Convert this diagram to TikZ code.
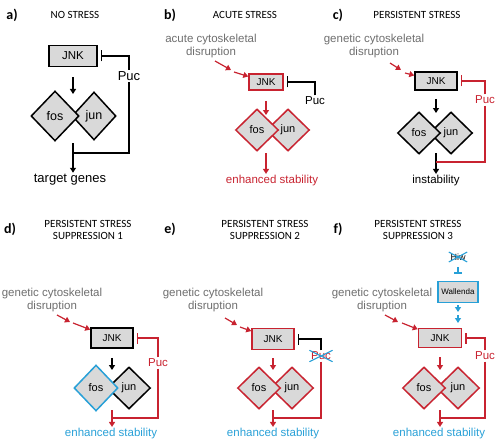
\documentclass[tikz,border=0pt]{standalone}
\usepackage{fontspec}
\setmainfont{Liberation Sans}
\newfontfamily\headfont{Carlito}
\usetikzlibrary{arrows.meta,shapes.geometric}
\definecolor{stressred}{RGB}{200,35,48}
\definecolor{supcyan}{RGB}{40,160,215}
\definecolor{boxfill}{RGB}{217,217,217}
\definecolor{notegray}{RGB}{110,110,110}

\begin{document}
\begin{tikzpicture}[
  x=1pt, y=-1pt,
  tag/.style={font=\headfont\bfseries\fontsize{14}{14}\selectfont},
  title/.style={font=\headfont\fontsize{11}{12}\selectfont, align=center},
  lbl/.style={inner sep=1.5pt, font=\fontsize{11.5}{13}\selectfont},
  note/.style={lbl, text=notegray, align=center},
  kin/.style={draw, fill=boxfill, line width=1.5pt, minimum width=42pt, minimum height=18pt, inner sep=0pt, font=\fontsize{10}{10}\selectfont},
  gene/.style={draw, fill=boxfill, diamond, line width=1.5pt, minimum width=43pt, minimum height=42pt, inner sep=0pt, font=\fontsize{11}{11}\selectfont},
  act/.style={line width=1.4pt, -{Triangle[length=5pt,width=6pt]}},
  push/.style={act, stressred, line width=1.2pt},
  inh/.style={line width=1.4pt, -{Bar[width=11pt]}, shorten >=3pt},
  link/.style={line width=1.4pt},
  veto/.style={supcyan, line width=1.1pt}
]
\useasboundingbox (0,0) rectangle (502,441);

\node[tag] at (12,15) {a)};
\node[title] at (75,15) {NO STRESS};
\node[kin, minimum width=48pt, minimum height=21pt, line width=1.8pt, font=\fontsize{11.5}{12}\selectfont] (a-jnk) at (73,56) {JNK};
\node[gene, minimum width=44pt, minimum height=48pt, font=\fontsize{12.5}{13}\selectfont] (a-jun) at (94,116) {jun};
\node[gene, minimum width=48pt, minimum height=50pt, font=\fontsize{12.5}{13}\selectfont] (a-fos) at (55,116) {fos};
\node[lbl, font=\fontsize{13}{14}\selectfont] (a-puc) at (129,76) {Puc};
\node[lbl, font=\fontsize{13}{14}\selectfont] (a-out) at (70,180) {target genes};
\coordinate (a-in) at (73,94);
\coordinate (a-from) at (73,143);
\coordinate (a-join) at (73,153);
\draw[act, shorten <=10pt] (a-jnk) -- (a-in);
\draw[act] (a-from) -- (a-from |- a-out.north);
\draw[inh] (a-puc) |- (a-jnk);
\draw[link] (a-puc) |- (a-join);

\begin{scope}[shift={(160,0)}]
\node[tag] at (10,15) {b)};
\node[title] at (85,15) {ACUTE STRESS};
\node[note] (b-note) at (51,46) {acute cytoskeletal\\disruption};
\node[kin, draw=stressred, minimum width=34pt, minimum height=16pt] (b-jnk) at (106,82) {JNK};
\node[gene, draw=stressred] (b-jun) at (128,130) {jun};
\node[gene, draw=stressred] (b-fos) at (97,130) {fos};
\node[lbl] (b-puc) at (155,101) {Puc};
\node[lbl, text=stressred] (b-out) at (112,181) {enhanced stability};
\coordinate (b-d1) at (55,61);
\coordinate (b-d2) at (71,70);
\coordinate (b-d3) at (74,72);
\coordinate (b-in) at (106,115);
\coordinate (b-from) at (106,153);
\draw[push] (b-d1) -- (b-d2);
\draw[push] (b-d3) -- (b-jnk);
\draw[act, stressred, shorten <=10pt] (b-jnk) -- (b-in);
\draw[act, stressred] (b-from) -- (b-from |- b-out.north);
\draw[inh] (b-puc) |- (b-jnk);
\end{scope}

\begin{scope}[shift={(330,0)}]
\node[tag] at (8,15) {c)};
\node[title] at (87,15) {PERSISTENT STRESS};
\node[note] (c-note) at (44,46) {genetic cytoskeletal\\disruption};
\node[kin] (c-jnk) at (106,81) {JNK};
\node[gene] (c-jun) at (121,133) {jun};
\node[gene] (c-fos) at (89,133) {fos};
\node[lbl, text=stressred] (c-puc) at (155,100) {Puc};
\node[lbl] (c-out) at (106,181) {instability};
\coordinate (c-d1) at (60,63);
\coordinate (c-d2) at (71,70);
\coordinate (c-d3) at (75,73);
\coordinate (c-in) at (106,113);
\coordinate (c-from) at (106,153);
\coordinate (c-join) at (106,162);
\draw[push] (c-d1) -- (c-d2);
\draw[push] (c-d3) -- (c-jnk);
\draw[act, shorten <=8pt] (c-jnk) -- (c-in);
\draw[act] (c-from) -- (c-from |- c-out.north);
\draw[inh, stressred] (c-puc) |- (c-jnk);
\draw[link, stressred] (c-puc) |- (c-join);
\end{scope}

\begin{scope}[shift={(0,220)}]
\node[tag] at (10,9) {d)};
\node[title] at (88,10) {PERSISTENT STRESS\\SUPPRESSION 1};
\node[note] (d-note) at (52,80) {genetic cytoskeletal\\disruption};
\node[kin, minimum height=20pt] (d-jnk) at (112,118) {JNK};
\node[gene] (d-jun) at (129,168) {jun};
\node[gene, draw=supcyan, minimum width=44pt, minimum height=46pt] (d-fos) at (96,168) {fos};
\node[lbl, text=stressred] (d-puc) at (158,143) {Puc};
\node[lbl, text=supcyan] (d-out) at (111,214) {enhanced stability};
\coordinate (d-d1) at (57,95);
\coordinate (d-d2) at (70,102);
\coordinate (d-d3) at (73,103);
\coordinate (d-in) at (112,150);
\coordinate (d-from) at (112,190);
\coordinate (d-join) at (112,198);
\draw[push] (d-d1) -- (d-d2);
\draw[push] (d-d3) -- (d-jnk);
\draw[act, shorten <=9pt] (d-jnk) -- (d-in);
\draw[act, stressred] (d-from) -- (d-from |- d-out.north);
\draw[inh, stressred] (d-puc) |- (d-jnk);
\draw[link, stressred] (d-puc) |- (d-join);
\end{scope}

\begin{scope}[shift={(160,220)}]
\node[tag] at (10,9) {e)};
\node[title] at (105,10) {PERSISTENT STRESS\\SUPPRESSION 2};
\node[note] (e-note) at (53,80) {genetic cytoskeletal\\disruption};
\node[kin, draw=stressred, minimum height=21pt] (e-jnk) at (113,119) {JNK};
\node[gene, draw=stressred] (e-jun) at (132,168) {jun};
\node[gene, draw=stressred] (e-fos) at (99,168) {fos};
\node[lbl, text=stressred] (e-puc) at (161,136) {Puc};
\node[lbl, text=supcyan] (e-out) at (113,214) {enhanced stability};
\coordinate (e-d1) at (65,98);
\coordinate (e-d2) at (77,105);
\coordinate (e-d3) at (80,107);
\coordinate (e-in) at (113,150);
\coordinate (e-from) at (113,190);
\coordinate (e-join) at (113,198);
\draw[push] (e-d1) -- (e-d2);
\draw[push] (e-d3) -- (e-jnk);
\draw[act, stressred, shorten <=8pt] (e-jnk) -- (e-in);
\draw[act, stressred] (e-from) -- (e-from |- e-out.north);
\draw[inh] (e-puc) |- (e-jnk);
\draw[link, stressred] (e-puc) |- (e-join);
\draw[veto] (e-puc.north west) -- (e-puc.south east);
\draw[veto] (e-puc.north east) -- (e-puc.south west);
\end{scope}

\begin{scope}[shift={(330,220)}]
\node[tag] at (8,9) {f)};
\node[title] at (88,10) {PERSISTENT STRESS\\SUPPRESSION 3};
\node[lbl, font=\fontsize{9}{9}\selectfont] (f-hiw) at (128,37) {Hiw};
\node[kin, draw=supcyan, minimum width=40pt, minimum height=21pt, font=\fontsize{8}{8}\selectfont] (f-wal) at (128,72) {Wallenda};
\node[note] (f-note) at (52,80) {genetic cytoskeletal\\disruption};
\node[kin, draw=stressred, minimum width=43pt, minimum height=19pt] (f-jnk) at (110,118) {JNK};
\node[gene, draw=stressred] (f-jun) at (128,168) {jun};
\node[gene, draw=stressred] (f-fos) at (94,168) {fos};
\node[lbl, text=stressred] (f-puc) at (155,136) {Puc};
\node[lbl, text=supcyan] (f-out) at (109,214) {enhanced stability};
\coordinate (f-d1) at (55,95);
\coordinate (f-d2) at (68,102);
\coordinate (f-d3) at (72,103);
\coordinate (f-w1) at (128,85);
\coordinate (f-w2) at (128,92);
\coordinate (f-w3) at (128,95);
\coordinate (f-w4) at (128,103);
\coordinate (f-in) at (110,150);
\coordinate (f-from) at (110,190);
\coordinate (f-join) at (110,198);
\draw[veto] (f-hiw.north west) -- (f-hiw.south east);
\draw[veto] (f-hiw.north east) -- (f-hiw.south west);
\draw[inh, supcyan, -{Bar[width=8pt]}, shorten <=5pt, shorten >=7pt] (f-hiw) -- (f-wal);
\draw[act, supcyan] (f-w1) -- (f-w2);
\draw[act, supcyan] (f-w3) -- (f-w4);
\draw[push] (f-d1) -- (f-d2);
\draw[push] (f-d3) -- (f-jnk);
\draw[act, stressred, shorten <=9pt] (f-jnk) -- (f-in);
\draw[act, stressred] (f-from) -- (f-from |- f-out.north);
\draw[inh, stressred] (f-puc) |- (f-jnk);
\draw[link, stressred] (f-puc) |- (f-join);
\end{scope}
\end{tikzpicture}
\end{document}
